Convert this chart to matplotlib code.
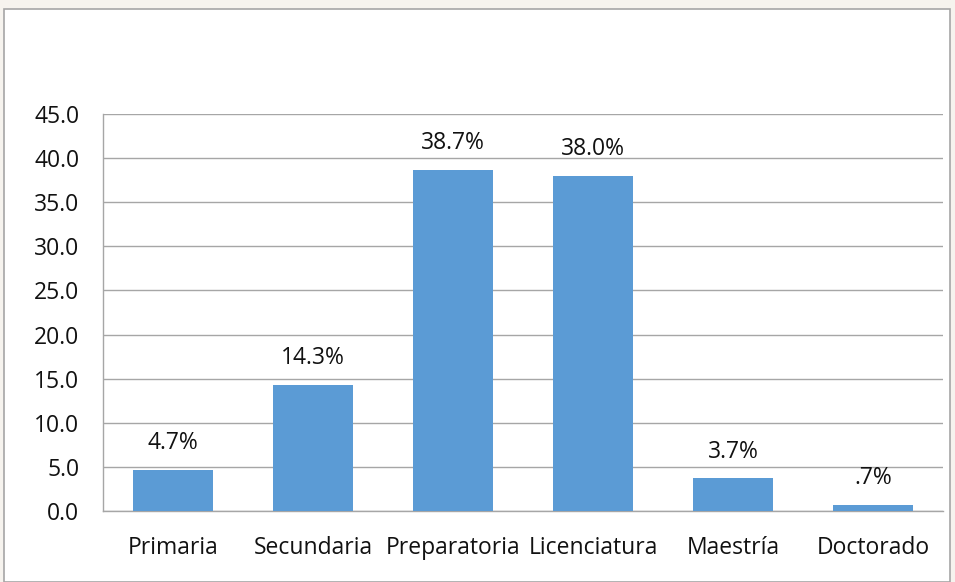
import matplotlib
matplotlib.use('Agg')
import matplotlib.pyplot as plt
from matplotlib.patches import Rectangle

# Data
categories = ['Primaria', 'Secundaria', 'Preparatoria', 'Licenciatura', 'Maestría', 'Doctorado']
values = [4.7, 14.3, 38.7, 38.0, 3.7, 0.7]
labels = ['4.7%', '14.3%', '38.7%', '38.0%', '3.7%', '.7%']
yticks = [0, 5, 10, 15, 20, 25, 30, 35, 40, 45]

plt.rcParams['font.family'] = ['Open Sans', 'DejaVu Sans']

W, H = 955, 582
fig = plt.figure(figsize=(W / 100, H / 100), dpi=100)
fig.patch.set_facecolor('#f6f3ee')

# white chart frame with gray border, kept behind the axes
frame = Rectangle((4 / W, 0), 946 / W, 1 - 9 / H, transform=fig.transFigure,
                  facecolor='white', edgecolor='#a6a6a6', linewidth=1.2, zorder=-10)
fig.add_artist(frame)

ax = fig.add_axes([103 / W, 1 - 511 / H, 840 / W, 397 / H])
ax.set_facecolor('none')

x = range(len(categories))
ax.bar(x, values, width=0.57, color='#5b9bd5', zorder=3)
for i, (v, lab) in enumerate(zip(values, labels)):
    ax.annotate(lab, (i, v), xytext=(0, 15), textcoords='offset points',
                ha='center', va='baseline', fontsize=16.5, color='#111111')

ax.set_xlim(-0.5, len(categories) - 0.5)
ax.set_ylim(0, 45)
ax.set_yticks(yticks)
ax.set_yticklabels(['%.1f' % t for t in yticks])
ax.set_xticks(list(x))
ax.set_xticklabels(categories)
ax.tick_params(axis='both', length=0, labelsize=16.5, colors='#111111')
ax.tick_params(axis='x', pad=18)
ax.tick_params(axis='y', pad=17)

ax.yaxis.grid(True, color='#a6a6a6', linewidth=1, zorder=0)
ax.set_axisbelow(True)
for s in ['top', 'right']:
    ax.spines[s].set_visible(False)
for s in ['left', 'bottom']:
    ax.spines[s].set_color('#a6a6a6')
    ax.spines[s].set_linewidth(1)

fig.savefig('out.png', dpi=100, facecolor=fig.get_facecolor())
